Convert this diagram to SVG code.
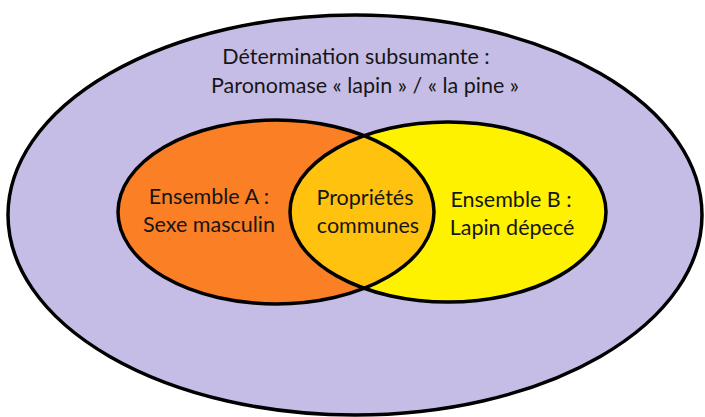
<svg xmlns="http://www.w3.org/2000/svg" width="705" height="417" viewBox="0 0 705 417">
<defs>
<style>
.o{stroke:#000;stroke-width:3.5;}
.t{font-family:Lato,"Open Sans","Liberation Sans",sans-serif;font-size:21.5px;fill:#161616;text-anchor:middle;}
</style>
<clipPath id="clipA"><ellipse cx="276" cy="212" rx="158" ry="92"/></clipPath>
</defs>
<rect width="705" height="417" fill="#ffffff"/>
<g id="universe">
<ellipse class="o" cx="355" cy="215" rx="347" ry="200" fill="#C6BDE6"/>
<text class="t" x="356" y="64">Détermination subsumante :</text>
<text class="t" x="365" y="93">Paronomase « lapin » / « la pine »</text>
</g>
<g id="setA">
<ellipse cx="276" cy="212" rx="158" ry="92" fill="#FB7F25"/>
</g>
<g id="setB">
<ellipse cx="448" cy="212" rx="158" ry="90" fill="#FFF200"/>
</g>
<g id="intersection">
<ellipse cx="448" cy="212" rx="158" ry="90" fill="#FFC20E" clip-path="url(#clipA)"/>
</g>
<g id="outlines">
<ellipse class="o" cx="276" cy="212" rx="158" ry="92" fill="none"/>
<ellipse class="o" cx="448" cy="212" rx="158" ry="90" fill="none"/>
</g>
<g id="labels">
<text class="t" x="209" y="204">Ensemble A :</text>
<text class="t" x="209" y="232">Sexe masculin</text>
<text class="t" x="365" y="205">Propriétés</text>
<text class="t" x="368" y="233">communes</text>
<text class="t" x="511" y="207">Ensemble B :</text>
<text class="t" x="512" y="235">Lapin dépecé</text>
</g>
</svg>
